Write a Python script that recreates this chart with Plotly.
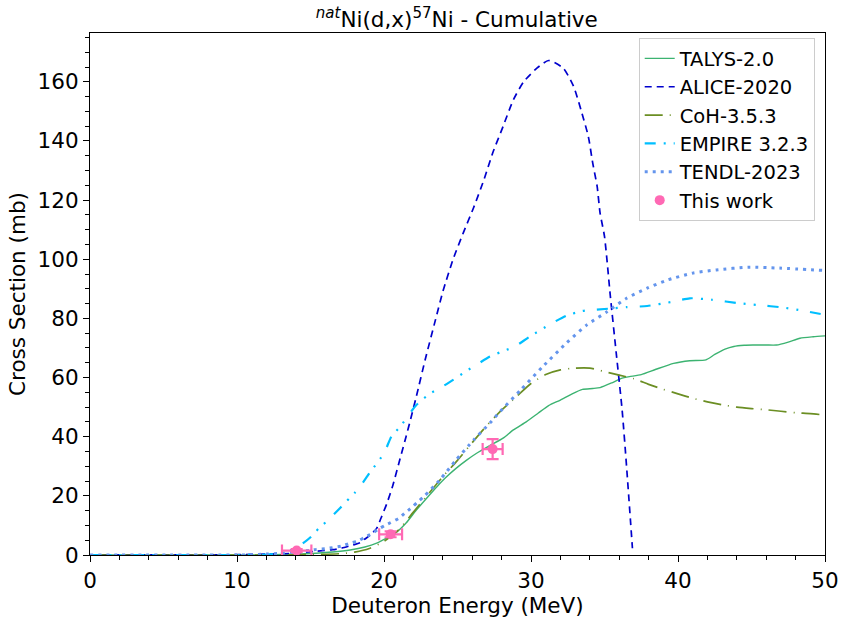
import plotly.graph_objects as go

# ---------------- data ----------------
talys_e = [0, 10, 12, 14, 15.4, 16.5, 17.7, 18.7, 19.5, 20.2, 20.9, 21.5, 22.2, 22.9, 23.6, 24.2,
           24.9, 25.6, 26.3, 27.2, 28.1, 28.8, 29.7, 30.5, 31.2, 32.0, 32.8, 33.5, 34.2, 34.7, 35.5,
           36.2, 36.7, 37.5, 38.5, 39.7, 40.8, 41.9, 42.5, 43.2, 43.8, 44.5, 45.1, 46.0, 46.7, 47.5,
           48.3, 49.2, 50]
talys_s = [0, 0, 0.05, 0.3, 0.6, 1.0, 1.7, 2.7, 4.0, 5.8, 7.9, 10.8, 15.2, 19.2, 23.1, 26.2,
           29.3, 32.0, 34.4, 37.0, 39.5, 42.3, 45.1, 48.0, 50.5, 52.4, 54.5, 56.0, 56.3, 56.6, 58.2,
           59.8, 60.3, 61.0, 62.8, 64.8, 65.7, 66.0, 67.8, 69.6, 70.5, 70.9, 71.0, 71.0, 71.0, 72.0,
           73.3, 73.8, 74.1]

alice_e = [0, 10, 12, 14, 15.4, 16.5, 17.1, 17.9, 18.4, 18.7, 19.0, 19.5, 19.8, 20.2, 20.6, 21.1,
           21.5, 21.8, 22.2, 22.8, 23.5, 24.0, 24.7, 25.4, 26.1, 26.8, 27.4, 28.1, 28.8, 29.5,
           30.4, 31.2, 32.2, 32.9, 33.4, 33.9, 34.2, 34.5, 34.7, 35.0, 35.4, 35.8, 36.2, 36.5, 36.9]
alice_s = [0, 0.1, 0.3, 0.6, 1.3, 1.8, 2.3, 3.4, 4.2, 5.4, 6.5, 9.0, 12.5, 17.5, 23.5, 32.7,
           40.0, 45.7, 53.6, 66.0, 79.5, 89.0, 100.0, 109.0, 117.5, 126.9, 136.0, 144.9, 153.9, 160.0,
           164.6, 167.2, 164.6, 158.4, 150.5, 141.5, 132.5, 124.6, 115.6, 107.7, 87.4, 68.2, 49.0, 30.0, 2.3]

coh_e = [0, 12, 14, 15.6, 17.2, 18, 19, 20, 21, 22, 23, 24, 25, 26, 27, 28, 29, 30, 31, 32, 33,
         34, 35, 36, 37, 38, 39, 40, 41, 42, 43, 44, 45, 46, 47, 48, 49, 50]
coh_s = [0, 0, 0.05, 0.2, 0.5, 1.0, 2.2, 4.6, 8.5, 14.5, 20.5, 26.5, 32.0, 38.0, 43.8, 49.0, 53.5,
         58.0, 61.0, 62.6, 63.2, 63.2, 62.0, 60.8, 59.6, 57.7, 56.0, 54.5, 53.0, 51.8, 50.8, 50.0,
         49.5, 49.1, 48.6, 48.1, 47.8, 47.3]

empire_e = [0, 10, 12, 13, 13.5, 14, 14.5, 15, 15.6, 16.2, 17.0, 18.0, 18.3, 19.0, 20.0, 20.5,
            21.1, 22.2, 23.1, 23.8, 24.7, 25.6, 26.3, 27.2, 28.2, 28.9, 29.9, 31.3, 32.4, 33.5,
            35.3, 36.5, 37.9, 39.5, 40.8, 42.3, 44.2, 45.5, 47.1, 48.5, 50]
empire_s = [0, 0, 0.1, 0.6, 1.3, 2.4, 4.0, 6.0, 9.2, 11.8, 15.8, 21.0, 22.6, 27.6, 34.4, 40.0,
            43.4, 50.7, 54.5, 56.4, 59.2, 62.2, 64.3, 67.1, 69.1, 70.5, 73.8, 78.0, 80.9, 82.5,
            83.3, 83.8, 84.2, 85.5, 86.8, 86.3, 85.1, 84.5, 83.7, 82.6, 81.2]

tendl_e = [0, 10, 10.9, 12, 13.1, 14, 15, 15.4, 16.1, 17.1, 17.7, 18.2, 18.7, 19.2, 19.6, 20.1,
           21.0, 21.4, 21.9, 22.3, 22.7, 23.8, 24.9, 26.1, 27.2, 27.9, 29.3, 30.8, 32.4, 33.8,
           35.2, 36.5, 37.9, 39.3, 41.0, 42.6, 44.8, 46.9, 50]
tendl_s = [0, 0, 0.05, 0.3, 0.6, 1.0, 1.6, 1.9, 2.2, 3.0, 4.0, 4.7, 6.0, 7.3, 8.7, 10.1,
           12.4, 14.1, 16.1, 18.0, 19.7, 25.4, 32.1, 38.9, 44.6, 48.5, 55.8, 63.7, 71.6, 77.8,
           82.3, 86.8, 90.2, 93.0, 95.3, 96.4, 97.3, 97.0, 96.2]

exp_e = [14.06, 20.45, 27.39]
exp_de = [1.0, 0.78, 0.68]
exp_s = [1.5, 7.0, 35.8]
exp_ds = [0.5, 1.0, 3.4]

FONT = "DejaVu Sans"
TICK_SIZE = 21.5
LABEL_SIZE = 21.5

fig = go.Figure()
fig.add_trace(go.Scatter(x=talys_e, y=talys_s, mode="lines", name="TALYS-2.0",
                         line=dict(color="#3CB371", width=1.4, shape="spline", smoothing=0.6)))
fig.add_trace(go.Scatter(x=alice_e, y=alice_s, mode="lines", name="ALICE-2020",
                         line=dict(color="#0000CD", width=1.7, dash="7px,5px", shape="spline", smoothing=0.6)))
fig.add_trace(go.Scatter(x=coh_e, y=coh_s, mode="lines", name="CoH-3.5.3",
                         line=dict(color="#6B8E23", width=1.7, dash="18px,7px,1px,7px", shape="spline", smoothing=0.6)))
fig.add_trace(go.Scatter(x=empire_e, y=empire_s, mode="lines", name="EMPIRE 3.2.3",
                         line=dict(color="#00BFFF", width=2.2, dash="11px,8px,2px,8px,2px,12px", shape="spline", smoothing=0.6)))
fig.add_trace(go.Scatter(x=tendl_e, y=tendl_s, mode="lines", name="TENDL-2023",
                         line=dict(color="#6495ED", width=3, dash="3px,5px", shape="spline", smoothing=0.6)))
fig.add_trace(go.Scatter(x=exp_e, y=exp_s, mode="markers", name="This work",
                         marker=dict(color="#FF69B4", size=10, symbol="circle"),
                         error_x=dict(type="data", array=exp_de, color="#FF69B4", thickness=2.2, width=6),
                         error_y=dict(type="data", array=exp_ds, color="#FF69B4", thickness=2.2, width=6)))

axis_common = dict(showline=True, linecolor="black", linewidth=1.2, mirror=True,
                   ticks="outside", ticklen=6, tickwidth=1.2, tickcolor="black",
                   showgrid=False, zeroline=False, automargin=False,
                   tickfont=dict(family=FONT, size=TICK_SIZE, color="black"))

fig.update_xaxes(range=[0, 50], dtick=10, tick0=0,
                 title=dict(text="Deuteron Energy (MeV)", font=dict(family=FONT, size=LABEL_SIZE, color="black"),
                            standoff=2),
                 minor=dict(dtick=2, ticks="outside", ticklen=3.5, tickwidth=1, tickcolor="black"),
                 **axis_common)
fig.update_yaxes(range=[0, 176.5], dtick=20, tick0=0,
                 title=dict(text="Cross Section (mb)", font=dict(family=FONT, size=LABEL_SIZE, color="black"),
                            standoff=6),
                 minor=dict(dtick=5, ticks="outside", ticklen=3.5, tickwidth=1, tickcolor="black"),
                 **axis_common)

fig.update_layout(
    width=842, height=622,
    margin=dict(l=90, r=17, t=33, b=67, autoexpand=False),
    paper_bgcolor="white", plot_bgcolor="white",
    title=dict(text="<sup><i>nat</i></sup>Ni(d,x)<sup>57</sup>Ni - Cumulative",
               x=0.5425, xanchor="center", y=0.968, yanchor="middle",
               font=dict(family=FONT, size=21.5, color="black")),
    legend=dict(x=0.986, y=0.99, xanchor="right", yanchor="top",
                bgcolor="white", bordercolor="#CCCCCC", borderwidth=1,
                font=dict(family=FONT, size=19.5, color="black"),
                tracegroupgap=0),
    showlegend=True,
)

fig.write_html("out.html")
